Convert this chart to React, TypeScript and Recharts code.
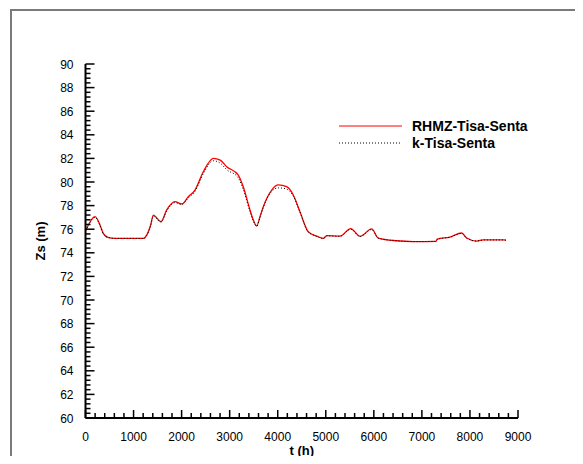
import React from 'react';
import { LineChart, Line, XAxis, YAxis, Legend } from 'recharts';

// water level at Senta, measured vs computed
const hours = [
  10, 198, 302, 370, 468, 614, 1203, 1273, 1356, 1411, 1571, 1690, 1862, 2002,
  2139, 2278, 2451, 2659, 2803, 2938, 3179, 3283, 3423, 3492, 3562, 3631, 3700,
  3874, 4012, 4186, 4324, 4463, 4636, 4811, 4948, 5019, 5295, 5518, 5712, 5955,
  6092, 6475, 6821, 7293, 7320, 7584, 7828, 7932, 8140, 8277, 8693, 8750,
];
const rhmzSenta = [
  75.93, 77.06, 76.36, 75.65, 75.31, 75.22, 75.22, 75.5, 76.36, 77.2, 76.64,
  77.63, 78.33, 78.14, 78.75, 79.32, 80.87, 82.01, 81.85, 81.3, 80.59, 79.6,
  77.63, 76.78, 76.27, 77.06, 77.91, 79.32, 79.75, 79.6, 78.9, 77.48, 75.79,
  75.42, 75.23, 75.45, 75.42, 76.05, 75.4, 76.02, 75.25, 75.02, 74.95, 74.97,
  75.16, 75.33, 75.68, 75.25, 74.99, 75.1, 75.1, 75.08,
];
const kSenta = [
  75.88, 77.0, 76.3, 75.6, 75.3, 75.22, 75.22, 75.45, 76.3, 77.1, 76.6, 77.55,
  78.25, 78.1, 78.65, 79.2, 80.7, 81.8, 81.6, 81.05, 80.35, 79.35, 77.5, 76.7,
  76.25, 77.0, 77.85, 79.2, 79.5, 79.4, 78.8, 77.45, 75.75, 75.4, 75.2, 75.43,
  75.4, 76.0, 75.38, 75.97, 75.24, 75.02, 74.95, 74.97, 75.14, 75.32, 75.65,
  75.24, 74.99, 75.09, 75.09, 75.07,
];

const xMajor = [0, 1000, 2000, 3000, 4000, 5000, 6000, 7000, 8000, 9000];
const yMajor = [60, 62, 64, 66, 68, 70, 72, 74, 76, 78, 80, 82, 84, 86, 88, 90];

// minor ticks: 5 per major interval
const withMinor = (major: number[]) => {
  const out: number[] = [];
  major.forEach((v, i) => {
    out.push(v);
    if (i < major.length - 1) {
      const step = (major[i + 1] - v) / 5;
      for (let k = 1; k < 5; k++) out.push(+(v + k * step).toFixed(4));
    }
  });
  return out;
};
const xTicks = withMinor(xMajor);
const yTicks = withMinor(yMajor);

const data = hours.map((t, i) => ({ t, rhmz: rhmzSenta[i], k: kSenta[i] }));

const FONT = '"Liberation Sans", Arial, sans-serif';

const XTick = (props: any) => {
  const { x, y, payload } = props;
  const isMajor = xMajor.includes(payload.value);
  return (
    <g>
      <line x1={x} x2={x} y1={y} y2={y - (isMajor ? 8 : 5)} stroke="#000" strokeWidth={1.5} />
      {isMajor && (
        <text x={x} y={y + 23} textAnchor="middle" fontSize={12} fontFamily={FONT} fill="#000">
          {payload.value}
        </text>
      )}
    </g>
  );
};

const YTick = (props: any) => {
  const { x, y, payload } = props;
  const isMajor = yMajor.includes(payload.value);
  return (
    <g>
      <line x1={x} x2={x + (isMajor ? 9 : 5)} y1={y} y2={y} stroke="#000" strokeWidth={1.5} />
      {isMajor && (
        <text x={x - 12} y={y + 4.5} textAnchor="end" fontSize={12} fontFamily={FONT} fill="#000">
          {payload.value}
        </text>
      )}
    </g>
  );
};

const dashes: Record<string, string | undefined> = { rhmz: undefined, k: '1 2' };

const renderLegend = (props: any) => (
  <svg width={220} height={40} style={{ display: 'block' }}>
    {(props.payload || []).map((p: any, i: number) => (
      <g key={p.value}>
        <line
          x1={0}
          x2={63}
          y1={8 + i * 17}
          y2={8 + i * 17}
          stroke={p.color}
          strokeWidth={1}
          strokeDasharray={dashes[p.dataKey]}
        />
        <text x={73} y={13 + i * 17} fontSize={14} fontWeight="bold" fontFamily={FONT} fill="#000">
          {p.value}
        </text>
      </g>
    ))}
  </svg>
);

export default function App() {
  return (
    <div style={{ position: 'relative', width: 567, height: 456, marginBottom: -8, overflow: 'hidden' }}>
      <div
        style={{
          position: 'absolute',
          left: 2,
          top: 1,
          width: 565,
          height: 455,
          borderLeft: '2px solid #7a7a7a',
          borderTop: '2px solid #7a7a7a',
          boxSizing: 'border-box',
        }}
      />
      <div style={{ position: 'absolute', left: 0, top: 0 }}>
        <LineChart
          width={567}
          height={456}
          data={data}
          margin={{ top: 56, right: 57, bottom: 16, left: 7.5 }}
        >
          <XAxis
            dataKey="t"
            type="number"
            domain={[0, 9000]}
            ticks={xTicks}
            interval={0}
            tickSize={0}
            tickMargin={0}
            tick={<XTick />}
            axisLine={{ stroke: '#000', strokeWidth: 2 }}
            height={30}
            label={{
              value: 't (h)',
              position: 'bottom',
              offset: -2,
              style: { fontFamily: FONT, fontSize: 13, fontWeight: 'bold', fill: '#000' },
            }}
          />
          <YAxis
            type="number"
            domain={[60, 90]}
            ticks={yTicks}
            interval={0}
            tickSize={0}
            tickMargin={0}
            tick={<YTick />}
            axisLine={{ stroke: '#000', strokeWidth: 2 }}
            width={70}
            label={{
              value: 'Zs (m)',
              angle: -90,
              position: 'insideLeft',
              offset: 24.5,
              style: { textAnchor: 'middle', fontFamily: FONT, fontSize: 13, fontWeight: 'bold', fill: '#000' },
            }}
          />
          <Legend
            layout="vertical"
            align="center"
            verticalAlign="middle"
            content={renderLegend}
            wrapperStyle={{ left: 331, top: 110, width: 220, height: 40 }}
          />
          <Line
            name="RHMZ-Tisa-Senta"
            dataKey="rhmz"
            type="monotone"
            stroke="#ff0000"
            strokeWidth={1.3}
            dot={false}
            isAnimationActive={false}
          />
          <Line
            name="k-Tisa-Senta"
            dataKey="k"
            type="monotone"
            stroke="#000"
            strokeWidth={1}
            strokeDasharray="1 2"
            dot={false}
            isAnimationActive={false}
          />
        </LineChart>
      </div>
    </div>
  );
}
